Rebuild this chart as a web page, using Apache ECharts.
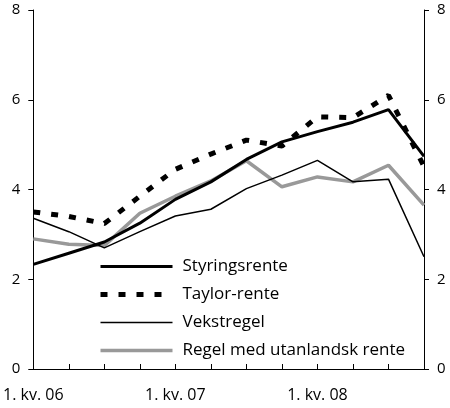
<!DOCTYPE html>
<html><head><meta charset="utf-8">
<script src="https://cdn.jsdelivr.net/npm/echarts@6/dist/echarts.min.js"></script>
<style>html,body{margin:0;padding:0;background:#fff}#c{width:450px;height:408px}</style>
</head><body><div id="c"></div>
<script>
var categories = ["1. kv. 06","2. kv. 06","3. kv. 06","4. kv. 06","1. kv. 07","2. kv. 07","3. kv. 07","4. kv. 07","1. kv. 08","2. kv. 08","3. kv. 08","4. kv. 08"];
var styringsrente = [2.33, 2.58, 2.83, 3.25, 3.78, 4.17, 4.67, 5.06, 5.29, 5.50, 5.78, 4.74];
var taylorRente = [3.50, 3.40, 3.24, 3.85, 4.45, 4.79, 5.10, 4.97, 5.62, 5.60, 6.10, 4.51];
var vekstregel = [3.36, 3.06, 2.70, 3.06, 3.41, 3.56, 4.02, 4.32, 4.65, 4.17, 4.23, 2.50];
var regelUtanlandsk = [2.90, 2.78, 2.75, 3.47, 3.85, 4.19, 4.64, 4.06, 4.28, 4.17, 4.54, 3.65];
var yTicks = [0, 2, 4, 6, 8];

var font = 'Open Sans';
var chart = echarts.init(document.getElementById('c'));
function yAxis(pos){
  return {type:'value', position:pos, min:yTicks[0], max:yTicks[yTicks.length-1], interval:2,
    axisLine:{show:true, lineStyle:{color:'#000', width:1}},
    axisTick:{show:true, inside:false, length:5, lineStyle:{color:'#000'}},
    axisLabel:{color:'#000', fontSize:15, fontFamily:font, margin:13},
    splitLine:{show:false}};
}
chart.setOption({
  animation:false,
  backgroundColor:'#fff',
  grid:{left:30, right:26, top:10, bottom:39, containLabel:false},
  legend:{orient:'vertical', left:98, top:258, padding:0, itemWidth:72, itemHeight:16, itemGap:11,
    itemStyle:{opacity:0, borderWidth:0},
    lineStyle:{width:'inherit', type:'inherit'},
    textStyle:{color:'#000', fontSize:17, fontFamily:font, padding:[0,0,0,5]},
    data:['Styringsrente','Taylor-rente','Vekstregel','Regel med utanlandsk rente']},
  xAxis:[{type:'category', data:categories, boundaryGap:false,
    axisLine:{lineStyle:{color:'#000', width:1}},
    axisTick:{show:true, inside:true, length:5, interval:0, lineStyle:{color:'#000'}},
    axisLabel:{interval:3, color:'#000', fontSize:16, fontFamily:font, margin:18},
    splitLine:{show:false}},
    {type:'category', data:categories, position:'top', boundaryGap:false,
    axisLine:{lineStyle:{color:'#000', width:1}}, axisTick:{show:false}, axisLabel:{show:false}}],
  yAxis:[yAxis('left'), yAxis('right')],
  series:[
    {name:'Styringsrente', type:'line', data:styringsrente, symbol:'none', z:4,
      lineStyle:{color:'#000', width:3}, itemStyle:{color:'#000'}},
    {name:'Taylor-rente', type:'line', data:taylorRente, symbol:'none', z:5,
      lineStyle:{color:'#000', width:5, type:[7,11]}, itemStyle:{color:'#000'}},
    {name:'Vekstregel', type:'line', data:vekstregel, symbol:'none', z:3,
      lineStyle:{color:'#000', width:1.5}, itemStyle:{color:'#000'}},
    {name:'Regel med utanlandsk rente', type:'line', data:regelUtanlandsk, symbol:'none', z:2,
      lineStyle:{color:'#999', width:3.5}, itemStyle:{color:'#999'}}
  ]
});
</script></body></html>
